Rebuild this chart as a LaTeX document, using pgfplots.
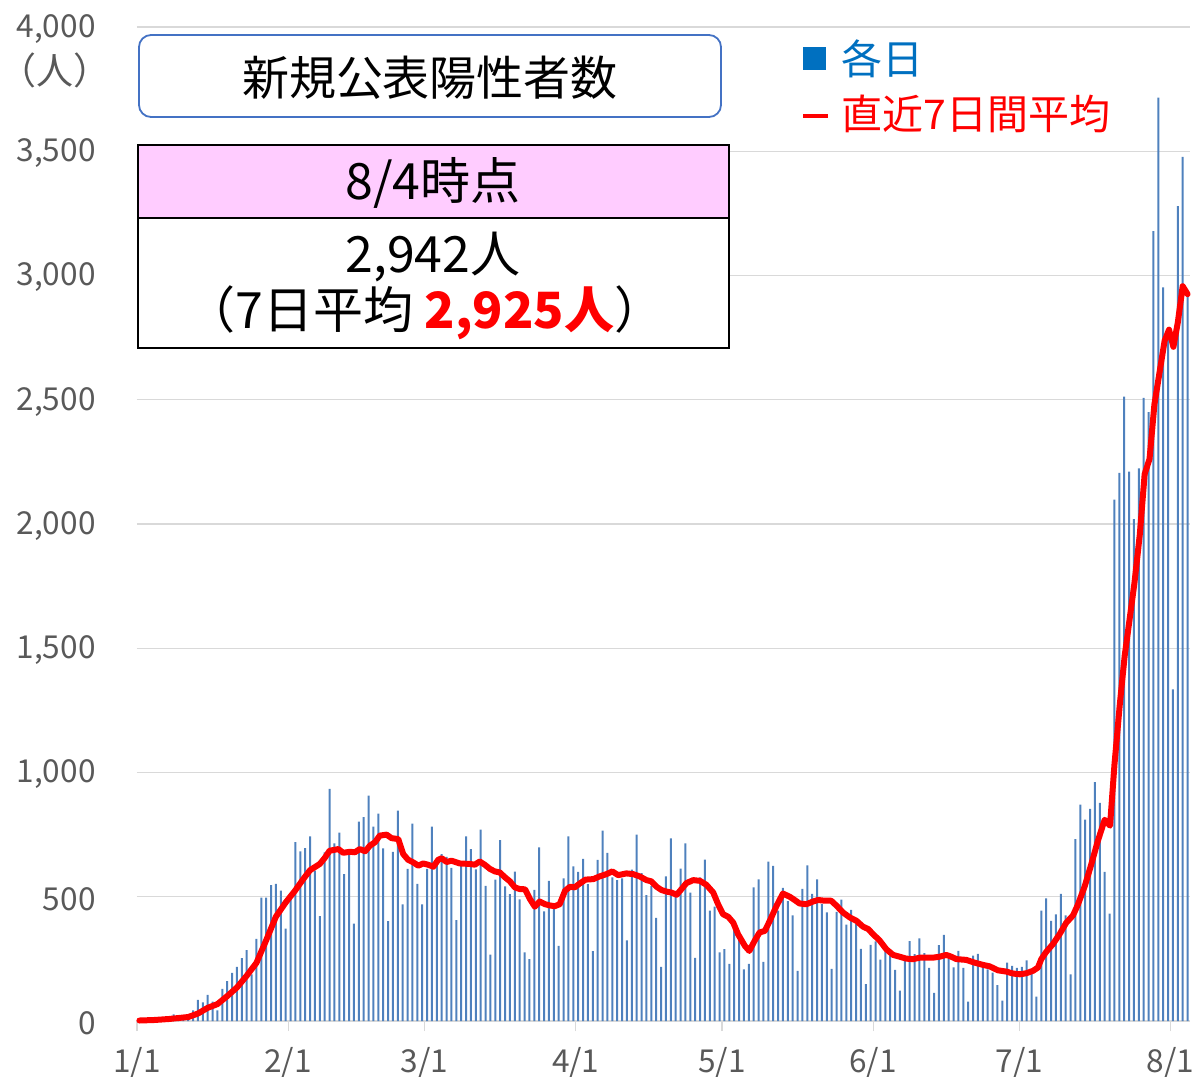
\documentclass[border=0pt]{standalone}
\usepackage{fontspec}
\setmainfont{Noto Sans CJK JP}
\usepackage{pgfplots}
\usepackage{pgfplotstable}
\pgfplotsset{compat=1.18}
\definecolor{barblue}{RGB}{79,129,189}
\definecolor{legblue}{RGB}{0,112,192}
\definecolor{ticktext}{RGB}{89,89,89}
\definecolor{gridgray}{RGB}{217,217,217}
\definecolor{boxblue}{RGB}{68,114,196}
\definecolor{pinkbg}{RGB}{255,204,255}

\pgfplotstableread{
d v
0 2
1 3
2 1
3 5
4 4
5 8
6 12
7 27
8 18
9 22
10 25
11 43
12 85
13 75
14 105
15 78
16 43
17 129
18 161
19 194
20 218
21 253
22 285
23 188
24 331
25 497
26 497
27 547
28 552
29 525
30 372
31 490
32 720
33 683
34 696
35 743
36 605
37 422
38 679
39 934
40 715
41 758
42 591
43 672
44 392
45 802
46 820
47 907
48 782
49 835
50 695
51 402
52 681
53 847
54 469
55 612
56 794
57 552
58 469
59 612
60 782
61 640
62 672
63 661
64 616
65 406
66 632
67 743
68 692
69 610
70 770
71 544
72 267
73 569
74 728
75 542
76 511
77 601
78 489
79 276
80 249
81 528
82 699
83 441
84 564
85 464
86 302
87 574
88 743
89 622
90 600
91 652
92 551
93 281
94 648
95 766
96 677
97 578
98 567
99 574
100 324
101 609
102 750
103 595
104 507
105 544
106 415
107 218
108 582
109 735
110 524
111 613
112 715
113 517
114 254
115 578
116 649
117 444
118 460
119 276
120 289
121 230
122 375
123 330
124 208
125 230
126 538
127 570
128 238
129 641
130 624
131 444
132 536
133 482
134 425
135 202
136 532
137 626
138 512
139 570
140 470
141 437
142 210
143 439
144 488
145 388
146 447
147 392
148 290
149 148
150 306
151 320
152 247
153 280
154 262
155 206
156 122
157 242
158 321
159 269
160 333
161 273
162 214
163 113
164 305
165 347
166 249
167 216
168 282
169 214
170 78
171 263
172 270
173 222
174 208
175 195
176 144
177 82
178 235
179 222
180 214
181 218
182 244
183 195
184 98
185 444
186 493
187 403
188 429
189 512
190 425
191 188
192 732
193 871
194 810
195 854
196 961
197 878
198 600
199 432
200 2098
201 2206
202 2513
203 2211
204 2020
205 2224
206 2508
207 2450
208 3179
209 3716
210 2952
211 2774
212 1335
213 3279
214 3477
215 2942
}\bars

\pgfplotstableread{
d v
0 2
3 4
6 8
8 12
10 16
12 30
14 53
16 68
18 100
20 135
22 182
24 234
26 325
28 420
30 477
31.9 524
33.6 571
35 607
37 632
38 656
39 685
40.8 692
41.8 677
43.2 681
44.2 679
45.2 692
46.3 683
47.3 706
48.3 719
49.3 746
50.7 750
51.7 736
53.1 732
54.1 672
55.1 649
56.2 638
57.2 625
58.2 634
59.2 629
60.3 621
61.3 649
62 655
63 640
64 645
65.7 634
67.8 632
68.8 629
69.8 642
70.9 628
71.9 612
72.9 602
73.9 598
75 578
76 562
77 538
78 531
79.1 530
80.1 491
81.1 460
82.1 481
83.2 470
84.2 465
85.2 462
86.2 470
87.3 524
88.3 540
89.3 538
90.3 553
91.5 569
93.1 571
94.4 582
95.8 591
97 602
98.2 587
99.9 594
101.3 591
102.6 582
104 567
105 562
106.1 540
107.1 527
108.1 521
109.1 517
110.2 508
111.2 531
112.2 555
113.6 567
115 564
116.3 548
117.7 517
118.7 470
119.7 430
120.8 419
121.8 396
122.8 349
124.2 302
125.1 282
126.2 323
127.2 356
128.3 363
129.3 403
130.7 464
132 513
133.4 500
134.4 487
135.4 473
136.8 470
138.2 481
139.2 487
140.6 484
141.9 484
143 464
144.3 437
145.7 417
147.1 403
148.4 380
149.5 370
150.5 349
151.8 325
153.2 289
154.6 266
155.9 259
157.3 251
158.7 249
160.1 255
161.4 255
162.8 255
164.2 259
165.5 266
166.5 259
167.6 249
169.6 246
171.3 235
173 226
174.4 220
176.1 204
177.8 199
179.2 191
180.6 188
181.9 192
183.3 202
184.3 215
185 249
186 278
187.4 310
188.8 351
190.1 395
191.5 425
192.5 468
193.9 542
195.2 627
196.6 725
198 810
199.1 786
200 1030
201.1 1274
202.1 1469
203.1 1615
204.1 1762
205.2 1957
206.2 2201
207.2 2262
208.2 2481
209.3 2616
210.3 2738
211.2 2782
212.1 2713
213 2811
214 2957
215 2925
}\avg

\begin{document}
\begin{tikzpicture}[x=0.5pt,y=0.5pt]
\path[use as bounding box] (0,0) rectangle (1201,-1077);
\begin{axis}[
  at={(68.5pt,-510.5pt)}, anchor=south west,
  scale only axis, width=526.5pt, height=497pt,
  xmin=-0.5, xmax=215.5, ymin=0, ymax=4000,
  xtick={-0.5,30.5,58.5,89.5,119.5,150.5,180.5,211.5},
  xticklabels={1/1,2/1,3/1,4/1,5/1,6/1,7/1,8/1},
  ytick={0,500,...,4000},
  ymajorgrids, grid style={draw=gridgray, line width=0.6pt},
  axis line style={draw=none},
  xtick pos=bottom, ytick pos=left,
  tick align=outside, major tick length=5pt,
  xtick style={draw=gridgray, line width=0.6pt},
  ytick style={draw=none},
  tick label style={font=\fontsize{15.8}{18}\selectfont, text=ticktext},
  /pgf/number format/assume math mode=true,
  /pgf/number format/1000 sep={,},
  yticklabel style={anchor=east, inner sep=0pt, xshift=-15.5pt, yshift=-1pt},
  xticklabel style={anchor=north, inner sep=0pt, yshift=-8pt},
  clip=false,
  legend style={at={(0.631,0.992)}, anchor=north west, draw=none, fill=none,
    font=\fontsize{20.5}{24}\selectfont, inner sep=0pt, row sep=5pt},
  legend cell align=left,
]
\addplot[ybar, bar width=0.42, bar shift=0pt, fill=barblue, draw=none,
  legend image code/.code={\fill[legblue] (0pt,-5.75pt) rectangle (11.5pt,5.75pt); \path[draw=none,fill=none] (0pt,0pt) -- (17pt,0pt);}]
  table[x=d,y=v]{\bars};
\addplot[red, line width=3pt, line join=round, line cap=round, mark=none,
  legend image code/.code={\draw[red, line width=1.6pt, line cap=butt] (0pt,-1pt) -- (12.5pt,-1pt); \path[draw=none,fill=none] (0pt,0pt) -- (17pt,0pt);}]
  table[x=d,y=v]{\avg};
\legend{\textcolor{legblue}{各日},\textcolor{red}{直近7日間平均}}
\end{axis}
\draw[boxblue, line width=0.9pt, rounded corners=6pt, fill=white] (139,-35) rectangle (721,-117);
\node at (430,-78) {\fontsize{23.5}{28}\selectfont 新規公表陽性者数};
\fill[pinkbg] (138,-145) rectangle (729,-218);
\fill[white] (138,-218) rectangle (729,-348);
\draw[line width=1.2pt] (138,-145) rectangle (729,-348);
\draw[line width=1pt] (138,-218) -- (729,-218);
\node at (433,-183) {\fontsize{25}{30}\selectfont 8/4時点};
\node at (433,-257) {\fontsize{25}{30}\selectfont 2,942人};
\node at (425,-313) {\fontsize{25}{30}\selectfont （7日平均 \textcolor{red}{\textbf{2,925人}}）};
\node[text=ticktext] at (55,-70) {\fontsize{18.5}{22}\selectfont （人）};
\end{tikzpicture}
\end{document}
